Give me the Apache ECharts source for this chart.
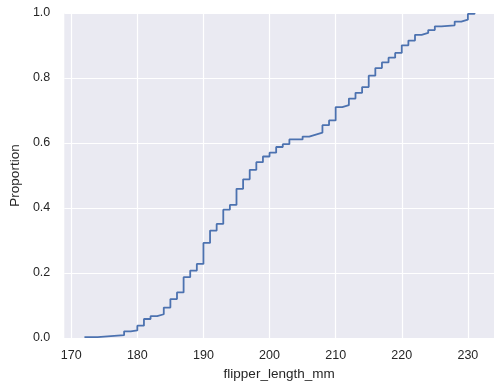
<!DOCTYPE html>
<html>
<head>
<meta charset="utf-8">
<script src="https://cdn.jsdelivr.net/npm/echarts@6/dist/echarts.min.js"></script>
<style>
  html, body { margin: 0; padding: 0; background: #fff; }
  #chart { width: 503px; height: 389px; }
</style>
</head>
<body>
<div id="chart"></div>
<script>
const flipperValues = [172, 174, 176, 178, 179, 180, 181, 182, 183, 184, 185, 186, 187, 188, 189,
  190, 191, 192, 193, 194, 195, 196, 197, 198, 199, 200, 201, 202, 203, 205, 206, 207, 208, 209,
  210, 211, 212, 213, 214, 215, 216, 217, 218, 219, 220, 221, 222, 223, 224, 225, 226, 228, 229,
  230, 231];
const flipperCounts = [1, 1, 1, 4, 1, 5, 7, 3, 2, 7, 9, 7, 16, 7, 7,
  22, 13, 7, 15, 5, 17, 10, 10, 8, 6, 4, 6, 3, 5, 3, 2, 2, 8, 5,
  14, 2, 7, 6, 6, 12, 8, 6, 5, 5, 8, 5, 6, 2, 3, 4, 1, 4, 2,
  6, 1];
const xTicks = [170, 180, 190, 200, 210, 220, 230];
const yTicks = [0, 0.2, 0.4, 0.6, 0.8, 1.0];

// empirical CDF from the counts
const total = flipperCounts.reduce((a, b) => a + b, 0);
let running = 0;
const ecdf = flipperValues.map((v, i) => {
  running += flipperCounts[i];
  return [v, running / total];
});

const textColor = '#262626';
const fontFamily = 'Liberation Sans, Arial, sans-serif';

const chart = echarts.init(document.getElementById('chart'));

const option = {
  animation: false,
  grid: {
    left: 59,
    right: 9,
    top: 13,
    bottom: 51,
    show: true,
    backgroundColor: '#EAEAF2',
    borderWidth: 0
  },
  xAxis: {
    type: 'value',
    min: 168.95,
    max: 233.95,
    name: 'flipper_length_mm',
    nameLocation: 'middle',
    nameGap: 29,
    nameTextStyle: { color: textColor, fontSize: 13.5, fontFamily: fontFamily },
    axisLine: { show: false },
    axisTick: { show: false, customValues: xTicks },
    axisLabel: {
      customValues: xTicks,
      color: textColor,
      fontSize: 12.5,
      fontFamily: fontFamily,
      margin: 11
    },
    splitLine: { show: true, lineStyle: { color: '#ffffff', width: 1.2 } }
  },
  yAxis: {
    type: 'value',
    min: 0,
    max: 1,
    name: 'Proportion',
    nameLocation: 'middle',
    nameGap: 38,
    nameTextStyle: { color: textColor, fontSize: 13.5, fontFamily: fontFamily },
    axisLine: { show: false },
    axisTick: { show: false, customValues: yTicks },
    axisLabel: {
      customValues: yTicks,
      color: textColor,
      fontSize: 12.5,
      fontFamily: fontFamily,
      margin: 14,
      formatter: (v) => v.toFixed(1)
    },
    splitLine: { show: true, lineStyle: { color: '#ffffff', width: 1.2 } }
  },
  series: [{
    type: 'line',
    step: 'end',
    data: ecdf,
    symbol: 'none',
    lineStyle: { color: '#4C72B0', width: 1.8 }
  }]
};

chart.setOption(option);
</script>
</body>
</html>
